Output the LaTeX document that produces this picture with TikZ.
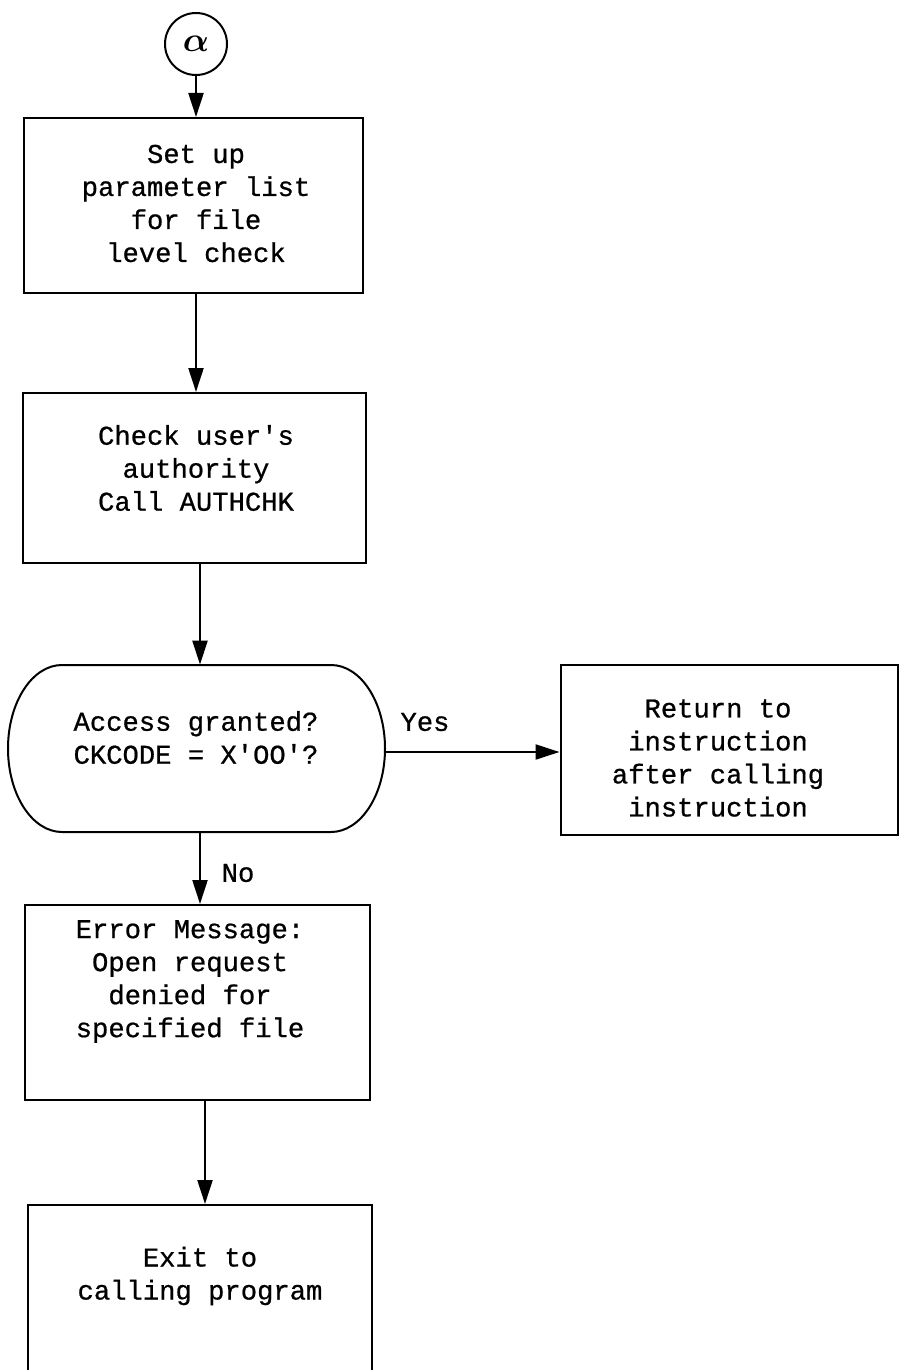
\documentclass[tikz,border=0pt]{standalone}
\usepackage{bm}
\usepackage{fontspec}
\setmonofont[FakeBold=0.7]{Liberation Mono}
\usetikzlibrary{arrows.meta}
\tikzset{
  boxframe/.style={draw, line width=1pt, inner sep=0pt},
  txt/.style={align=center, inner sep=0pt, font=\ttfamily\fontsize{13.6}{16.5}\selectfont},
  flow/.style={line width=1.1pt, -{Triangle[length=12pt,width=7.5pt]}},
  connector/.style={draw, line width=1pt, circle, minimum size=31pt, inner sep=0pt, font=\fontsize{19}{19}\selectfont}
}
\begin{document}
\begin{tikzpicture}[x=0.5pt,y=-0.5pt]
\clip (0,0) rectangle (899,1370);
% entry connector
\node[connector] (alpha) at (196,44) {$\bm{\alpha}$};
% process boxes
\node[boxframe, minimum width=169.5pt, minimum height=87.5pt] (b1) at (193.5,205.5) {};
\node[txt] (t1) at (196,203.5) {Set up\\parameter list\\for file\\level check};
\node[boxframe, minimum width=171.5pt, minimum height=85pt] (b2) at (194.5,478) {};
\node[txt] (t2) at (196,468) {Check user's\\authority\\Call AUTHCHK};
% decision
\node[minimum width=188.5pt, minimum height=83.5pt, inner sep=0pt] (dec) at (196.5,748.5) {};
\draw[line width=1pt] (62,665) -- (331,665)
  arc[start angle=90, end angle=-90, x radius=27pt, y radius=41.75pt]
  -- (62,832)
  arc[start angle=270, end angle=90, x radius=27pt, y radius=41.75pt] -- cycle;
\node[txt] (td) at (196,737.5) {Access granted?\\CKCODE = X'OO'?};
\node[boxframe, minimum width=168.5pt, minimum height=85pt] (ret) at (729,750) {};
\node[txt] (tr) at (718,758) {Return to\\instruction\\after calling\\instruction};
\node[boxframe, minimum width=172.5pt, minimum height=97.5pt] (err) at (197.5,1002.5) {};
\node[txt] (te) at (190,981.5) {Error Message:\\Open request\\denied for\\specified file};
\node[boxframe, minimum width=172pt, minimum height=110pt] (ex) at (200,1315) {};
\node[txt] (tx) at (200,1276) {Exit to\\calling program};
% connectors
\draw[flow] (alpha.south) -- (b1.north -| alpha.south);
\draw[flow] (b1.south -| alpha.south) -- (b2.north -| alpha.south);
\coordinate (c2) at (200,563);
\draw[flow] (c2) -- (c2 |- dec.north);
\coordinate (y1) at (0,752);
\draw[flow] (dec.east |- y1) -- (ret.west |- y1);
\node[txt] (yes) at (425,722) {Yes};
\draw[flow] (dec.south -| c2) -- (err.north -| c2);
\node[txt] (no) at (238,873) {No};
\coordinate (c3) at (205,1100);
\draw[flow] (c3) -- (ex.north -| c3);
\end{tikzpicture}
\end{document}
